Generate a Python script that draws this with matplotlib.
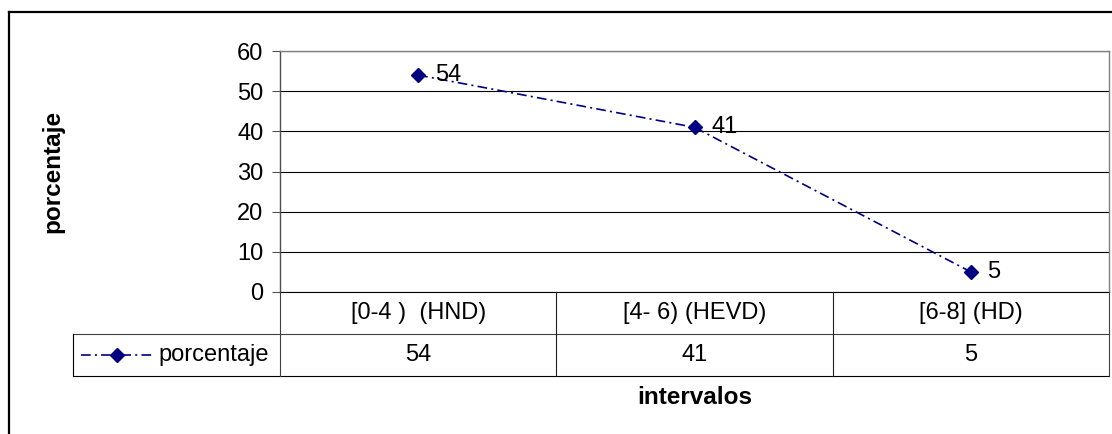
import matplotlib
matplotlib.use('Agg')
import matplotlib.pyplot as plt
from matplotlib.lines import Line2D

# ---- data ----
categories = ['[0-4 )  (HND)', '[4- 6) (HEVD)', '[6-8] (HD)']
porcentaje = [54, 41, 5]
series_name = 'porcentaje'
y_ticks = [0, 10, 20, 30, 40, 50, 60]
y_label = 'porcentaje'
x_label = 'intervalos'

plt.rcParams['font.family'] = ['Liberation Sans', 'DejaVu Sans']
plt.rcParams['lines.scale_dashes'] = False

W, H = 1112, 434
fig = plt.figure(figsize=(W / 100, H / 100), dpi=100)


def fx(px):
    return px / W


def fy(py):
    return 1 - py / H


NAVY = '#000080'
LS = (0, (7, 3, 1.5, 3))
FS = 17
FSB = 17.5
MS = 7.5

# plot area (pixels)
L, R, T, B = 280, 1109, 51, 292
ax = fig.add_axes([fx(L), fy(B), fx(R) - fx(L), fy(T) - fy(B)])
n = len(categories)
xs = [i + 0.5 for i in range(n)]
ax.set_xlim(0, n)
ax.set_ylim(y_ticks[0], y_ticks[-1])
ax.set_yticks(y_ticks)
ax.set_xticks([])
ax.yaxis.grid(True, color='black', lw=0.8)
ax.set_axisbelow(True)
for s in ['top', 'right']:
    ax.spines[s].set_color('#808080')
    ax.spines[s].set_linewidth(1.0)
ax.spines['left'].set_color('#505050')
ax.spines['left'].set_linewidth(1.0)
ax.spines['bottom'].set_color('black')
ax.spines['bottom'].set_linewidth(0.8)
ax.tick_params(axis='y', length=5.8, width=0.8, color='#505050', pad=6,
               labelsize=FS)

ax.plot(xs, porcentaje, color=NAVY, lw=1.2, linestyle=LS, marker='D',
        markersize=MS, markerfacecolor=NAVY, markeredgecolor=NAVY,
        clip_on=False, zorder=3)
for xv, yv in zip(xs, porcentaje):
    ax.annotate(str(yv), (xv, yv), xytext=(12, 0), textcoords='offset points',
                ha='left', va='center', fontsize=FS, color='black', zorder=4)

# data table below the plot
TB = 375.5
LEG_L = 73.3
cw = (R - L) / n
x0 = (LEG_L - L) / cw
ax2 = fig.add_axes([fx(LEG_L), fy(TB), fx(R) - fx(LEG_L), fy(B) - fy(TB)])
ax2.set_xlim(x0, n)
ax2.set_ylim(0, 2)
ax2.axis('off')
lc = '#202020'
lw = 0.8
ax2.plot([x0, n], [0, 0], color='black', lw=lw, clip_on=False)
ax2.plot([x0, n], [1, 1], color='#404040', lw=lw, clip_on=False)
ax2.plot([x0, x0], [0, 1], color='black', lw=lw, clip_on=False)
for i in range(n + 1):
    ax2.plot([i, i], [0, 2], color='#404040' if i in (0, n) else lc, lw=lw,
             clip_on=False)
for i, (c, v) in enumerate(zip(categories, porcentaje)):
    ax2.text(i + 0.5, 1.5, c, ha='center', va='center', fontsize=FS)
    ax2.text(i + 0.5, 0.5, str(v), ha='center', va='center', fontsize=FS)

# legend key in table
k1 = (81 - L) / cw
k2 = (154 - L) / cw
ax2.plot([k1, (k1 + k2) / 2, k2], [0.5, 0.5, 0.5], color=NAVY, lw=1.2,
         linestyle=LS, marker='D', markersize=MS, markevery=[1],
         markerfacecolor=NAVY, markeredgecolor=NAVY, clip_on=False)
ax2.text((158 - L) / cw, 0.5, series_name, ha='left', va='center',
         fontsize=FS)

# axis titles
fig.text(fx(53), fy((T + B) / 2), y_label, rotation=90, ha='center',
         va='center', fontsize=FSB, fontweight='bold')
fig.text(fx((L + R) / 2), fy(398), x_label, ha='center', va='center',
         fontsize=FSB, fontweight='bold')

# outer chart border (left and top visible)
fig.add_artist(Line2D([fx(8.7), fx(8.7)], [fy(12), 0], color='black',
                      lw=1.6, transform=fig.transFigure))
fig.add_artist(Line2D([fx(8.7), 1], [fy(12), fy(12)], color='black',
                      lw=1.6, transform=fig.transFigure))

fig.savefig('out.png', dpi=100)
